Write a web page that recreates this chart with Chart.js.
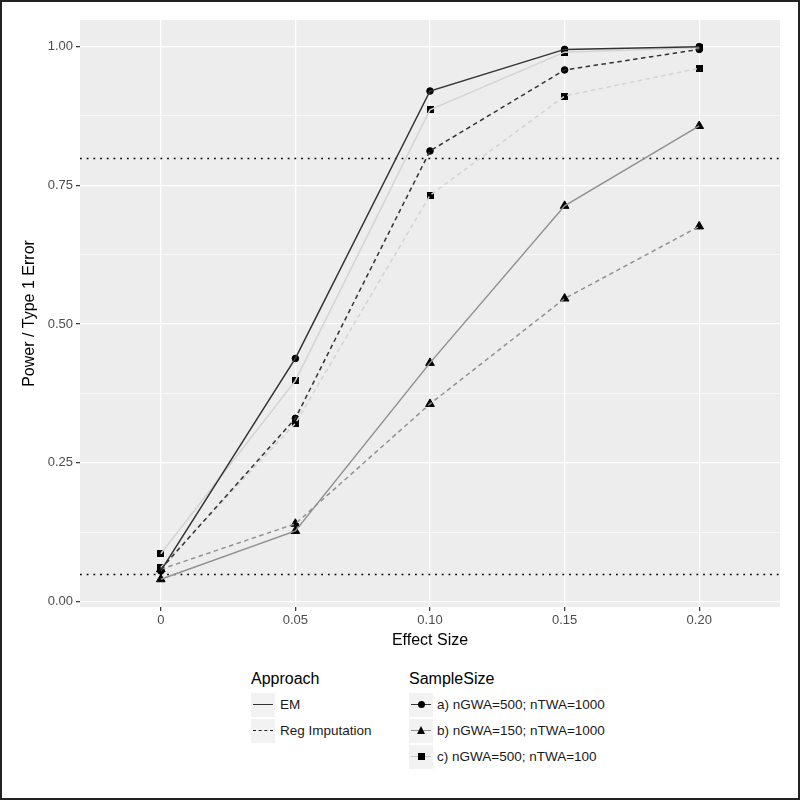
<!DOCTYPE html>
<html lang="en">
<head>
<meta charset="UTF-8">
<title>Power / Type 1 Error</title>
<style>
    body {
        margin: 0;
        padding: 0;
        background: #ffffff;
        font-family: "Liberation Sans", Arial, sans-serif;
    }
    #wrap {
        position: relative;
        width: 800px;
        height: 800px;
        overflow: hidden;
    }
    #frame {
        position: absolute;
        left: 0; top: 0;
        width: 800px; height: 800px;
        box-sizing: border-box;
        border: 2px solid #222;
        pointer-events: none;
    }
    #chart {
        position: absolute;
        left: 0; top: 0;
    }
    .lg-title {
        position: absolute;
        font-size: 16px;
        color: #000;
        line-height: 16px;
    }
    .key {
        position: absolute;
        width: 24px;
        height: 24px;
        background: #f2f2f2;
    }
    .key .ln {
        position: absolute;
        left: 2px; right: 2px;
        top: 11px;
        height: 0;
        border-top: 1.5px solid #333;
    }
    .key .ln.dash { border-top-style: dashed; border-top-color: #222; }
    .key .mk { position: absolute; }
    .mk.circle { width: 7px; height: 7px; border-radius: 50%; background: #000; left: 8.5px; top: 8px; }
    .mk.square { width: 7px; height: 7px; background: #000; left: 8.5px; top: 8px; }
    .mk.triangle { width: 0; height: 0; border-left: 4.5px solid transparent; border-right: 4.5px solid transparent; border-bottom: 8px solid #000; left: 7.5px; top: 7px; }
    .lg-label {
        position: absolute;
        font-size: 13.5px;
        color: #1a1a1a;
        line-height: 14px;
        white-space: nowrap;
    }
</style>
</head>
<body>
<div id="wrap">
    <canvas id="chart" width="800" height="650"></canvas>

    <div class="lg-title" style="left:251px; top:671px;">Approach</div>
    <div class="key" style="left:251px; top:693px;"><div class="ln"></div></div>
    <div class="lg-label" style="left:280px; top:698px;">EM</div>
    <div class="key" style="left:251px; top:719px;"><div class="ln dash"></div></div>
    <div class="lg-label" style="left:280px; top:724px;">Reg Imputation</div>

    <div class="lg-title" style="left:409px; top:671px;">SampleSize</div>
    <div class="key" style="left:409px; top:693px;"><div class="ln" style="border-top-color:#333333"></div><div class="mk circle"></div></div>
    <div class="lg-label" style="left:437px; top:698px;">a) nGWA=500; nTWA=1000</div>
    <div class="key" style="left:409px; top:719px;"><div class="ln" style="border-top-color:#919191"></div><div class="mk triangle"></div></div>
    <div class="lg-label" style="left:437px; top:724px;">b) nGWA=150; nTWA=1000</div>
    <div class="key" style="left:409px; top:745px;"><div class="ln" style="border-top-color:#c8c8c8"></div><div class="mk square"></div></div>
    <div class="lg-label" style="left:437px; top:750px;">c) nGWA=500; nTWA=100</div>

    <div id="frame"></div>
</div>

<script src="https://cdn.jsdelivr.net/npm/chart.js"></script>
<script>
    // categories on the x axis (discrete)
    const effectSizes = ['0', '0.05', '0.10', '0.15', '0.20'];

    // EM
    const emA = [0.055, 0.438, 0.920, 0.995, 1.000];
    const emB = [0.040, 0.127, 0.430, 0.713, 0.857];
    const emC = [0.086, 0.398, 0.886, 0.990, 0.998];
    // Reg Imputation
    const regA = [0.058, 0.330, 0.812, 0.958, 0.995];
    const regB = [0.058, 0.140, 0.356, 0.546, 0.676];
    const regC = [0.061, 0.321, 0.732, 0.911, 0.961];

    const refLines = [0.8, 0.05];
    const yMajor = [0, 0.25, 0.5, 0.75, 1];
    const yMinor = [0.125, 0.375, 0.625, 0.875];

    // solid black square marker as a small canvas
    const squareMark = document.createElement('canvas');
    squareMark.width = 7;
    squareMark.height = 7;
    const sq = squareMark.getContext('2d');
    sq.fillStyle = '#000';
    sq.fillRect(0, 0, 7, 7);

    const groupColor = { a: '#333333', b: '#919191', c: '#d4d4d4' };
    const groupShape = { a: ['circle', 3.3], b: ['triangle', 5], c: [squareMark, 4] };

    const series = [
        { vals: emA, grp: 'a', dash: [] },
        { vals: emB, grp: 'b', dash: [] },
        { vals: emC, grp: 'c', dash: [] },
        { vals: regA, grp: 'a', dash: [4.5, 3.5] },
        { vals: regB, grp: 'b', dash: [4.5, 3.5] },
        { vals: regC, grp: 'c', dash: [4.5, 3.5] }
    ];

    function toXY(arr) {
        return arr.map(function (v, i) { return { x: i, y: v }; });
    }

    let datasets = [];
    // lines first, then points on top (like geom_line + geom_point)
    series.forEach(function (s) {
        datasets.push({
            data: toXY(s.vals),
            borderColor: groupColor[s.grp],
            borderWidth: 1.5,
            borderDash: s.dash,
            pointRadius: 0,
            fill: false,
            tension: 0
        });
    });
    series.forEach(function (s) {
        datasets.push({
            data: toXY(s.vals),
            showLine: false,
            borderDash: [],
            pointStyle: groupShape[s.grp][0],
            pointRadius: groupShape[s.grp][1],
            pointRotation: 0,
            pointBackgroundColor: '#000',
            pointBorderColor: '#000',
            pointBorderWidth: 1
        });
    });

    const panelPlugin = {
        id: 'panel',
        beforeDraw: function (chart) {
            const a = chart.chartArea;
            const ctx = chart.ctx;
            ctx.save();
            ctx.fillStyle = '#ededed';
            ctx.fillRect(a.left, a.top, a.right - a.left, a.bottom - a.top);
            ctx.restore();
        },
        beforeDatasetsDraw: function (chart) {
            const a = chart.chartArea;
            const ctx = chart.ctx;
            const y = chart.scales.y;
            ctx.save();
            ctx.strokeStyle = '#000';
            ctx.lineWidth = 1.6;
            ctx.setLineDash([1.8, 4.9]);
            refLines.forEach(function (v) {
                const py = Math.round(y.getPixelForValue(v)) + 0.5;
                ctx.beginPath();
                ctx.moveTo(a.left, py);
                ctx.lineTo(a.right, py);
                ctx.stroke();
            });
            ctx.restore();
        }
    };

    function isMajor(v) {
        return yMajor.some(function (m) { return Math.abs(m - v) < 1e-9; });
    }

    new Chart(document.getElementById('chart').getContext('2d'), {
        type: 'line',
        data: { datasets: datasets },
        plugins: [panelPlugin],
        options: {
            responsive: false,
            animation: false,
            layout: { padding: { top: 20, right: 20, left: 0, bottom: 0 } },
            plugins: {
                legend: { display: false },
                tooltip: { enabled: false }
            },
            scales: {
                x: {
                    type: 'linear',
                    min: -0.6,
                    max: effectSizes.length - 1 + 0.6,
                    afterBuildTicks: function (s) {
                        s.ticks = effectSizes.map(function (_, i) { return { value: i }; });
                    },
                    afterFit: function (s) { s.height = 43; },
                    border: { display: false },
                    grid: {
                        color: '#ffffff',
                        lineWidth: 1.3,
                        drawTicks: true,
                        tickLength: 4,
                        tickColor: '#333333',
                        tickWidth: 1.2
                    },
                    ticks: {
                        padding: 2,
                        maxRotation: 0,
                        color: '#4d4d4d',
                        font: { family: 'Liberation Sans', size: 13 },
                        callback: function (v) { return effectSizes[v]; }
                    },
                    title: {
                        display: true,
                        text: 'Effect Size',
                        color: '#000',
                        padding: { top: 0, bottom: 0 },
                        font: { family: 'Liberation Sans', size: 16 }
                    }
                },
                y: {
                    type: 'linear',
                    min: -0.01,
                    max: 1.048,
                    afterBuildTicks: function (s) {
                        s.ticks = yMajor.concat(yMinor).sort().map(function (v) { return { value: v }; });
                    },
                    afterFit: function (s) { s.width = 80; },
                    border: { display: false },
                    grid: {
                        color: '#ffffff',
                        lineWidth: function (c) { return isMajor(c.tick.value) ? 1.3 : 0.6; },
                        drawTicks: true,
                        tickLength: 4,
                        tickColor: function (c) { return isMajor(c.tick.value) ? '#333333' : 'rgba(0,0,0,0)'; },
                        tickWidth: 1.2
                    },
                    ticks: {
                        padding: 3,
                        color: '#4d4d4d',
                        font: { family: 'Liberation Sans', size: 13 },
                        callback: function (v) { return isMajor(v) ? v.toFixed(2) : ''; }
                    },
                    title: {
                        display: true,
                        text: 'Power / Type 1 Error',
                        color: '#000',
                        padding: { top: 20, bottom: 0 },
                        font: { family: 'Liberation Sans', size: 16 }
                    }
                }
            }
        }
    });
</script>
</body>
</html>
